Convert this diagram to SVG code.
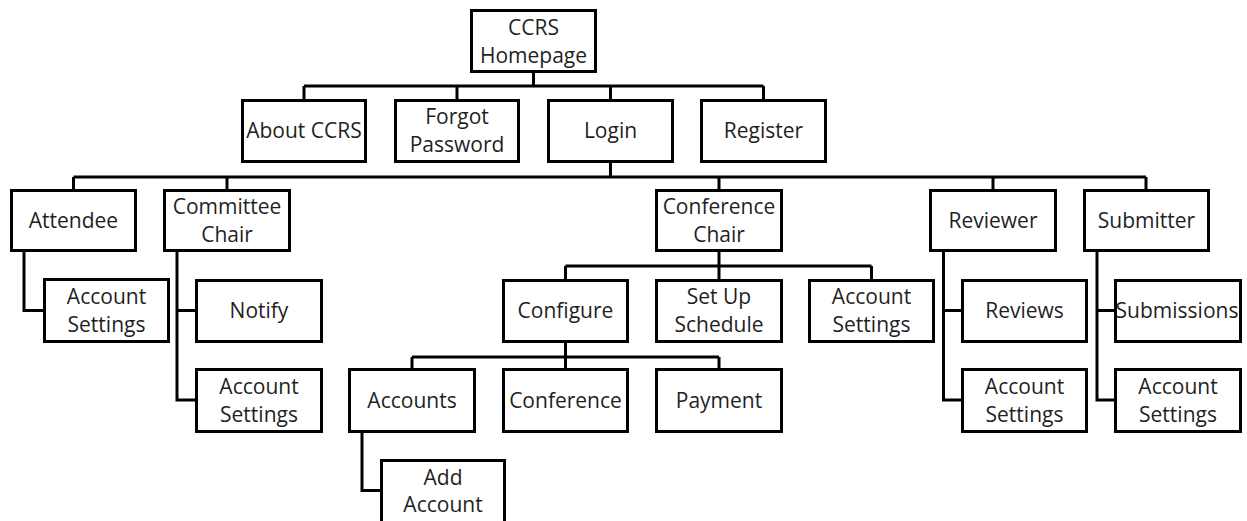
<svg xmlns="http://www.w3.org/2000/svg" width="1247" height="521" viewBox="0 0 1247 521">
<style>
.b{fill:#fff;stroke:#000;stroke-width:3}
.t{font-family:"Open Sans","Liberation Sans",sans-serif;font-size:21px;fill:#1f1f1f;text-anchor:middle}
.c{fill:none;stroke:#000;stroke-width:3}
</style>
<rect width="1247" height="521" fill="#fff"/>
<g id="connectors" class="c">
<path d="M533.5,73 V86 M304,86 H763.5 M304,86 V99 M457,86 V99 M610.5,86 V99 M763.5,86 V99"/>
<path d="M610.5,163 V177 M73.5,177 H1146 M73.5,177 V189 M227,177 V189 M719,177 V189 M993,177 V189 M1146,177 V189"/>
<path d="M24,252 V310.5 H43"/>
<path d="M177,252 V400 H195 M177,310.5 H195"/>
<path d="M719,252 V266 M565.5,266 H871.5 M565.5,266 V279 M719,266 V279 M871.5,266 V279"/>
<path d="M565.5,343 V357 M412,357 H719 M412,357 V368 M565.5,357 V368 M719,357 V368"/>
<path d="M362,432 V490.5 H380"/>
<path d="M943.5,252 V400 H961 M943.5,310.5 H961"/>
<path d="M1097,252 V400 H1114 M1097,310.5 H1114"/>
</g>
<g id="homepage"><rect class="b" x="471.5" y="10.5" width="124" height="61"/><text class="t" x="533.5" y="35">CCRS</text><text class="t" x="533.5" y="62.5">Homepage</text></g>
<g id="about"><rect class="b" x="242.5" y="100.5" width="123" height="61"/><text class="t" x="304" y="138">About CCRS</text></g>
<g id="forgot"><rect class="b" x="395.5" y="100.5" width="123" height="61"/><text class="t" x="457" y="124">Forgot</text><text class="t" x="457" y="152">Password</text></g>
<g id="login"><rect class="b" x="548.5" y="100.5" width="124" height="61"/><text class="t" x="610.5" y="138">Login</text></g>
<g id="register"><rect class="b" x="701.5" y="100.5" width="124" height="61"/><text class="t" x="763.5" y="138">Register</text></g>
<g id="attendee"><rect class="b" x="11.5" y="190.5" width="124" height="60"/><text class="t" x="73.5" y="228">Attendee</text></g>
<g id="committee-chair"><rect class="b" x="164.5" y="190.5" width="125" height="60"/><text class="t" x="227" y="214">Committee</text><text class="t" x="227" y="242">Chair</text></g>
<g id="conference-chair"><rect class="b" x="656.5" y="190.5" width="125" height="60"/><text class="t" x="719" y="214">Conference</text><text class="t" x="719" y="242">Chair</text></g>
<g id="reviewer"><rect class="b" x="930.5" y="190.5" width="125" height="60"/><text class="t" x="993" y="228">Reviewer</text></g>
<g id="submitter"><rect class="b" x="1084.5" y="190.5" width="124" height="60"/><text class="t" x="1146.5" y="228">Submitter</text></g>
<g id="attendee-account-settings"><rect class="b" x="44.5" y="279.5" width="124" height="62"/><text class="t" x="106.5" y="304">Account</text><text class="t" x="106.5" y="332">Settings</text></g>
<g id="notify"><rect class="b" x="196.5" y="280.5" width="125" height="61"/><text class="t" x="259" y="318">Notify</text></g>
<g id="configure"><rect class="b" x="503.5" y="280.5" width="124" height="61"/><text class="t" x="565.5" y="318">Configure</text></g>
<g id="set-up-schedule"><rect class="b" x="656.5" y="280.5" width="125" height="61"/><text class="t" x="719" y="304">Set Up</text><text class="t" x="719" y="332">Schedule</text></g>
<g id="cc-account-settings"><rect class="b" x="809.5" y="280.5" width="124" height="61"/><text class="t" x="871.5" y="304">Account</text><text class="t" x="871.5" y="332">Settings</text></g>
<g id="reviews"><rect class="b" x="962.5" y="280.5" width="124" height="61"/><text class="t" x="1024.5" y="318">Reviews</text></g>
<g id="submissions"><rect class="b" x="1115.5" y="280.5" width="125" height="61"/><text class="t" x="1177" y="318">Submissions</text></g>
<g id="committee-account-settings"><rect class="b" x="196.5" y="369.5" width="125" height="62"/><text class="t" x="259" y="394">Account</text><text class="t" x="259" y="422">Settings</text></g>
<g id="accounts"><rect class="b" x="349.5" y="369.5" width="125" height="62"/><text class="t" x="412" y="408">Accounts</text></g>
<g id="conference"><rect class="b" x="503.5" y="369.5" width="124" height="62"/><text class="t" x="565.5" y="408">Conference</text></g>
<g id="payment"><rect class="b" x="656.5" y="369.5" width="125" height="62"/><text class="t" x="719" y="408">Payment</text></g>
<g id="reviewer-account-settings"><rect class="b" x="962.5" y="369.5" width="124" height="62"/><text class="t" x="1024.5" y="394">Account</text><text class="t" x="1024.5" y="422">Settings</text></g>
<g id="submitter-account-settings"><rect class="b" x="1115.5" y="369.5" width="125" height="62"/><text class="t" x="1178" y="394">Account</text><text class="t" x="1178" y="422">Settings</text></g>
<g id="add-account"><rect class="b" x="381.5" y="460.5" width="123" height="63"/><text class="t" x="443" y="484.5">Add</text><text class="t" x="443" y="512">Account</text></g>
</svg>
